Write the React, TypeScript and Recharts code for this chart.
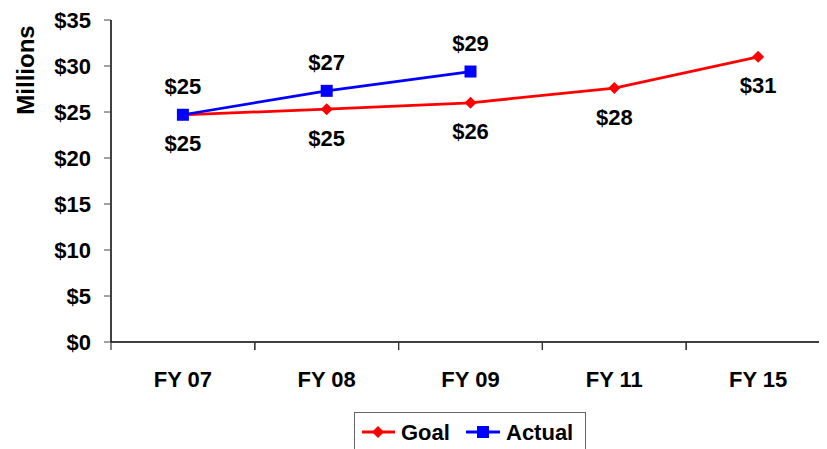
import React from 'react';
import { LineChart, Line, XAxis, YAxis, LabelList, Legend } from 'recharts';

const categories = ['FY 07', 'FY 08', 'FY 09', 'FY 11', 'FY 15'];
const goalValues = [24.7, 25.3, 26.0, 27.6, 31.0];
const actualValues: (number | null)[] = [24.7, 27.3, 29.4, null, null];
const yTicks = [0, 5, 10, 15, 20, 25, 30, 35];

const data = categories.map((fy, i) => ({ fy, goal: goalValues[i], actual: actualValues[i] }));

const FONT = '"Liberation Sans", Arial, sans-serif';
const fmt = (v: any) => (v == null ? '' : `$${Math.round(Number(v))}`);
const X_TICK_MARGIN = 29;
const X_TICK_LEN = 8;

const Diamond = (props: any) => {
  const { cx, cy } = props;
  if (cx == null || cy == null || isNaN(cy)) return null;
  const r = 6;
  return <polygon key={`d${cx}`} points={`${cx},${cy - r} ${cx + r},${cy} ${cx},${cy + r} ${cx - r},${cy}`} fill="#FF0000" />;
};

const Square = (props: any) => {
  const { cx, cy } = props;
  if (cx == null || cy == null || isNaN(cy)) return null;
  const s = 12;
  return <rect key={`s${cx}`} x={cx - s / 2} y={cy - s / 2} width={s} height={s} fill="#0000FF" />;
};

const XTick = (props: any) => {
  const { x, y, payload } = props;
  const off = payload?.offset ?? 0;
  const axisY = y - X_TICK_MARGIN;
  const bx = x - off;
  return (
    <g>
      <line x1={bx} x2={bx} y1={axisY} y2={axisY + X_TICK_LEN} stroke="#333" strokeWidth={1.2} />
      <line x1={x + off} x2={x + off} y1={axisY} y2={axisY + X_TICK_LEN} stroke="#333" strokeWidth={1.2} />
      <text x={x} y={y} dy="0.71em" textAnchor="middle" fontFamily={FONT} fontWeight="bold" fontSize={22} fill="#000">
        {payload.value}
      </text>
    </g>
  );
};

const LegendBox = () => (
  <svg width={232} height={45} style={{ display: 'block' }}>
    <rect x={0.5} y={0.5} width={231} height={50} fill="#fff" stroke="#666" />
    <line x1={8} y1={20} x2={41} y2={20} stroke="#FF0000" strokeWidth={3} />
    <polygon points="24,14 30,20 24,26 18,20" fill="#FF0000" />
    <text x={47} y={20} dominantBaseline="central" fontFamily={FONT} fontWeight="bold" fontSize={22} fill="#000">Goal</text>
    <line x1={112} y1={20} x2={146} y2={20} stroke="#0000FF" strokeWidth={3} />
    <rect x={123} y={14} width={12} height={12} fill="#0000FF" />
    <text x={152} y={20} dominantBaseline="central" fontFamily={FONT} fontWeight="bold" fontSize={22} fill="#000">Actual</text>
  </svg>
);

export default function App() {
  const tickStyle = { fontFamily: FONT, fontWeight: 'bold' as const, fontSize: 22, fill: '#000' };
  return (
    <div>
      <style>{`html,body{overflow:hidden}`}</style>
      <LineChart
        width={822}
        height={441}
        data={data}
        margin={{ top: 12, right: 0, bottom: 47, left: 0 }}
        style={{ background: '#fff' }}
      >
        <XAxis
          dataKey="fy"
          scale="band"
          interval={0}
          height={60}
          tickSize={0}
          tickMargin={X_TICK_MARGIN}
          axisLine={{ stroke: '#000', strokeWidth: 1.5 }}
          tickLine={false}
          tick={<XTick />}
        />
        <YAxis
          domain={[0, 35]}
          ticks={yTicks}
          interval={0}
          width={103}
          tickSize={7}
          tickMargin={13}
          tickFormatter={(v: number) => `$${v}`}
          axisLine={{ stroke: '#000', strokeWidth: 1.5 }}
          tickLine={{ stroke: '#444' }}
          tick={tickStyle}
          label={{
            content: () => (
              <text
                transform="translate(17,62) rotate(-90)"
                textAnchor="middle"
                dominantBaseline="central"
                fontFamily={FONT}
                fontWeight="bold"
                fontSize={24}
                fill="#000"
              >
                Millions
              </text>
            ),
          }}
        />
        <Legend
          layout="horizontal"
          verticalAlign="middle"
          align="center"
          wrapperStyle={{ position: 'absolute', left: 346, top: 404, width: 232, height: 45 }}
          content={() => <LegendBox />}
        />
        <Line
          type="linear"
          dataKey="goal"
          name="Goal"
          stroke="#FF0000"
          strokeWidth={2.75}
          dot={<Diamond />}
          activeDot={false}
          isAnimationActive={false}
        >
          <LabelList dataKey="goal" position="bottom" offset={21} formatter={fmt} style={tickStyle} />
        </Line>
        <Line
          type="linear"
          dataKey="actual"
          name="Actual"
          stroke="#0000FF"
          strokeWidth={2.75}
          dot={<Square />}
          activeDot={false}
          connectNulls={false}
          isAnimationActive={false}
        >
          <LabelList dataKey="actual" position="top" offset={21} formatter={fmt} style={tickStyle} />
        </Line>
      </LineChart>
    </div>
  );
}
